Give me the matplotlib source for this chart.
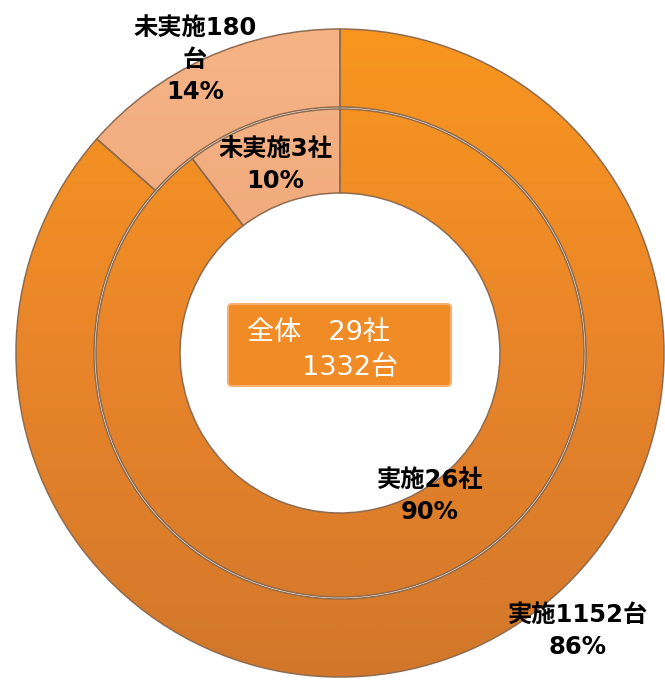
import numpy as np
import matplotlib.pyplot as plt
from matplotlib.patches import FancyBboxPatch
from matplotlib.colors import LinearSegmentedColormap

plt.rcParams['font.family'] = ['Noto Sans CJK JP', 'DejaVu Sans']

# data
outer_labels = ['実施1152台', '未実施180\n台']
outer_values = [1152, 180]
outer_pct = ['86%', '14%']
inner_labels = ['実施26社', '未実施3社']
inner_values = [26, 3]
inner_pct = ['90%', '10%']
colors = ['#EE8A25', '#F0A878']
# bottom -> top shading for each category
shades = [['#D2772A', '#E9852A', '#F8961F'], ['#E2966C', '#EEA578', '#F6B486']]

fig = plt.figure(figsize=(6.65, 6.82), dpi=100)
ax = fig.add_axes([0, 0, 1, 1])

# outer ring (units)
outer, _ = ax.pie(outer_values, radius=324, startangle=90, counterclock=False, colors=colors,
                  wedgeprops=dict(width=78, edgecolor='#8f6c50', linewidth=1.1))
# inner ring (companies)
inner, _ = ax.pie(inner_values, radius=244, startangle=90, counterclock=False, colors=colors,
                  wedgeprops=dict(width=84, edgecolor='#8f6c50', linewidth=1.1))

# vertical gradient fill clipped to each wedge
grad = np.linspace(0, 1, 256).reshape(-1, 1)
for wedges in (outer, inner):
    for i, w in enumerate(wedges):
        cmap = LinearSegmentedColormap.from_list('g%d' % i, shades[i])
        im = ax.imshow(grad, cmap=cmap, origin='lower', aspect='auto',
                       extent=(-324, 324, -324, 324), zorder=w.get_zorder() + 0.1)
        im.set_clip_path(w)
        w.set_zorder(w.get_zorder() + 0.2)
        w.set_facecolor('none')

ax.set_xlim(-340, 325)
ax.set_ylim(-329, 353)
ax.set_aspect('equal')
ax.axis('off')

lbl = dict(ha='center', va='center', fontsize=17.5, fontweight='bold', color='black',
           linespacing=1.4, family=['DejaVu Sans', 'Noto Sans CJK JP'], zorder=5)
ax.text(-145, 293, outer_labels[1] + '\n' + outer_pct[1], **lbl)
ax.text(-65, 188, inner_labels[1] + '\n' + inner_pct[1], **lbl)
ax.text(90, -143, inner_labels[0] + '\n' + inner_pct[0], **lbl)
ax.text(238, -278, outer_labels[0] + '\n' + outer_pct[0], **lbl)

# center box
box = FancyBboxPatch((-108, -29), 215, 74, boxstyle='round,pad=4,rounding_size=4',
                     facecolor='#F08B26', edgecolor='#F6B070', linewidth=1.5, zorder=4)
ax.add_patch(box)
txt = dict(ha='left', va='center', fontsize=19.5, color='white',
           family=['DejaVu Sans', 'Noto Sans CJK JP'], zorder=5)
ax.text(-93, 20, '全体　29社', **txt)
ax.text(-38, -15, '1332台', **txt)

fig.savefig('out.png', dpi=100)
